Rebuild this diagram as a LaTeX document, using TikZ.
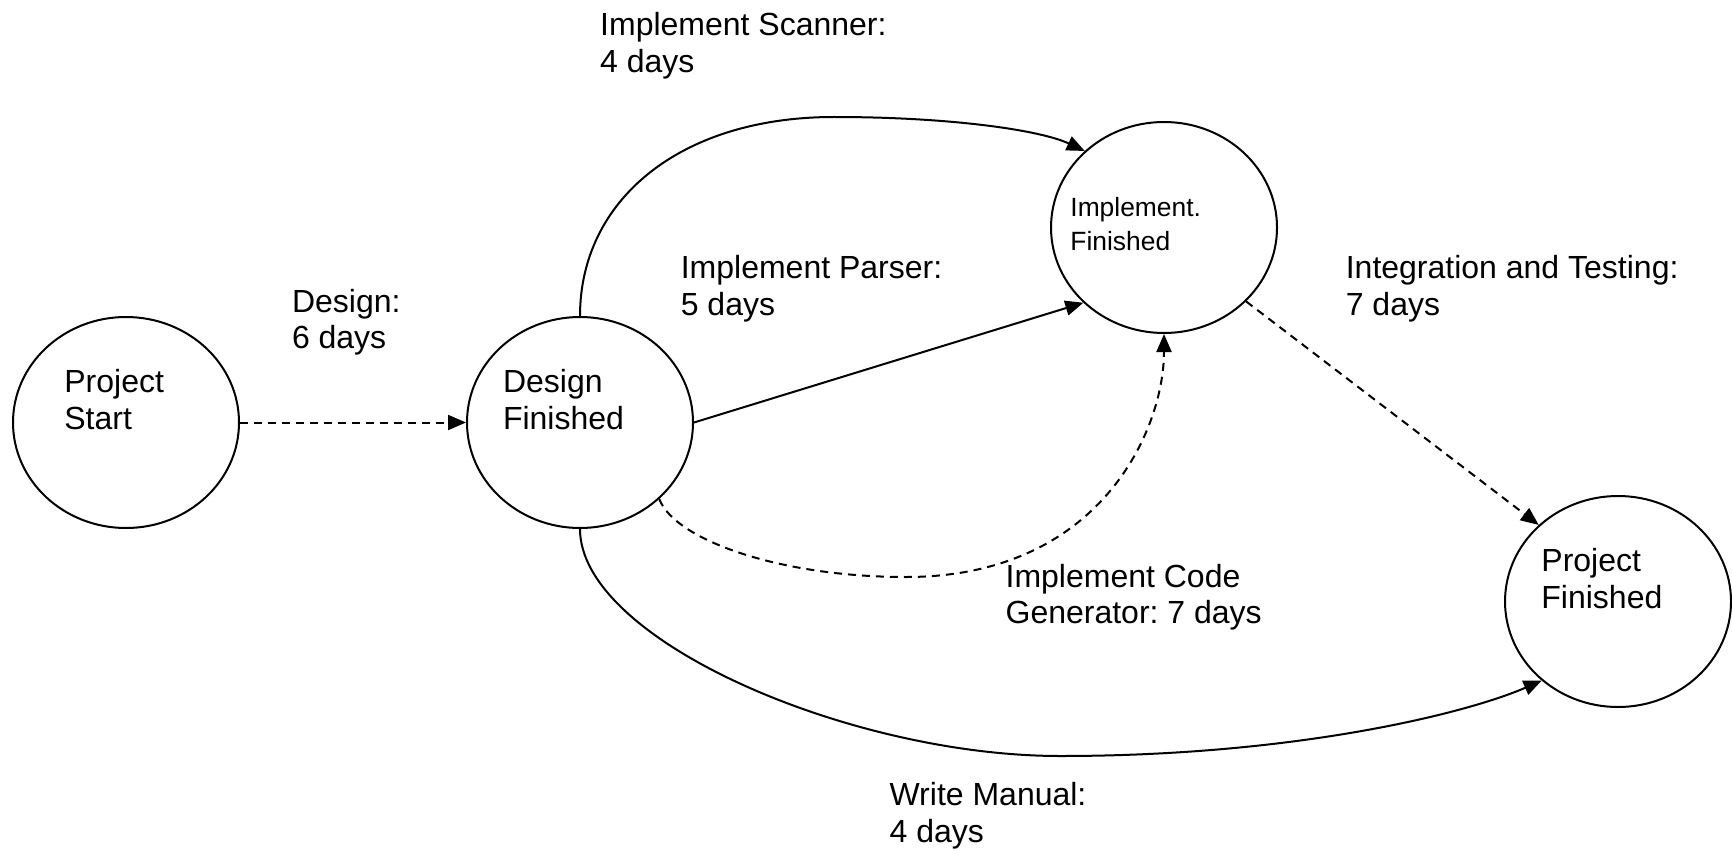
\documentclass[tikz,border=0pt]{standalone}
\usepackage{fontspec}
\setmainfont{Liberation Sans}
\usetikzlibrary{shapes.geometric,arrows.meta}
\frenchspacing
\begin{document}
\begin{tikzpicture}[x=0.5pt,y=-0.5pt,
  event/.style={ellipse,draw,line width=1pt,minimum width=113pt,minimum height=105.5pt,inner sep=0pt},
  txt/.style={anchor=base west,inner sep=0pt,align=left,font=\fontsize{16}{18.3}\selectfont},
  smalltxt/.style={txt,font=\fontsize{13.2}{17}\selectfont},
  link/.style={line width=1pt,-{Triangle[length=9pt,width=7.5pt]}},
  dashlink/.style={link,dash pattern=on 4pt off 3pt}]
\useasboundingbox (0,0) rectangle (1732,850);

% events
\node[event] (ps) at (126,422.5) {};
\node[event] (df) at (580,422.5) {};
\node[event] (if) at (1164,227.5) {};
\node[event] (pf) at (1618,601.5) {};

% event captions (positioned by the baseline of their last line)
\node[txt] (psText) at (64,429) {Project\\Start};
\node[txt] (dfText) at (502.6,429) {Design\\Finished};
\node[smalltxt] (ifText) at (1070,250) {Implement.\\Finished};
\node[txt] (pfText) at (1541,608) {Project\\Finished};

% activity labels
\node[txt] (lDesign) at (291.6,348.6) {Design:\\6 days};
\node[txt] (lScanner) at (599.8,72.4) {Implement Scanner:\\4 days};
\node[txt] (lParser) at (680.4,315.4) {Implement Parser:\\5 days};
\node[txt] (lTest) at (1345.4,315.4) {Integration and Testing:\\7 days};
\node[txt] (lCode) at (1005.2,623.6) {Implement Code\\Generator: 7 days};
\node[txt] (lManual) at (889.2,842.3) {Write Manual:\\4 days};

% activities
\draw[dashlink] (ps.east) -- (df.west);
\draw[link] (df.east) -- (if.-137);
\draw[link] (df.north) .. controls (580,200) and (680,117) .. (834,117)
  .. controls (950,117) and (1040,130) .. (if.136);
\draw[dashlink] (df.-44) .. controls (675,540) and (780,577) .. (906,577)
  .. controls (1100,577) and (1164,430) .. (if.south);
\draw[link] (df.south) .. controls (580,640) and (850,756) .. (1060,756)
  .. controls (1300,756) and (1470,712) .. (pf.-134);
\draw[dashlink] (if.-42.5) -- (pf.136);
\end{tikzpicture}
\end{document}
